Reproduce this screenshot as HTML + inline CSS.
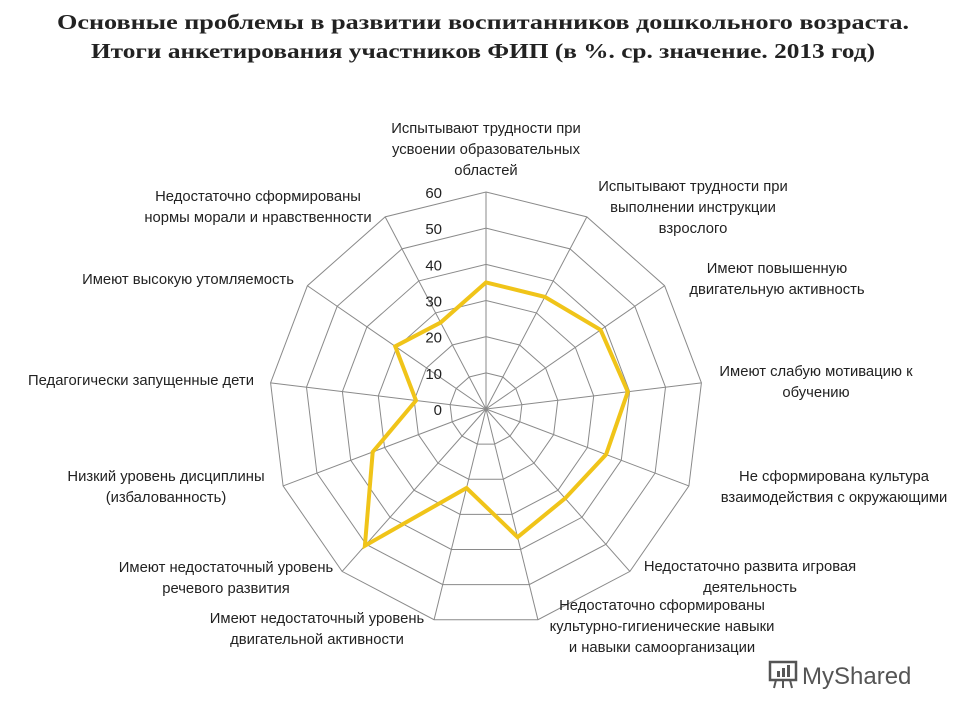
<!DOCTYPE html>
<html><head><meta charset="utf-8"><style>
body{margin:0;background:#fff;}
svg{display:block;}
.t{font-family:"Liberation Serif",serif;font-weight:bold;font-size:21px;fill:#222;}
.l{font-family:"Liberation Sans",sans-serif;font-size:14.8px;fill:#222;}
.k{font-family:"Liberation Sans",sans-serif;font-size:15px;fill:#222;}
</style></head><body>
<svg id="c" width="960" height="720" viewBox="0 0 960 720">
<text class="t" x="483" y="29" text-anchor="middle" textLength="852" lengthAdjust="spacingAndGlyphs">Основные проблемы в развитии воспитанников дошкольного возраста.</text>
<text class="t" x="483" y="58" text-anchor="middle" textLength="784" lengthAdjust="spacingAndGlyphs">Итоги анкетирования участников ФИП (в %. ср. значение. 2013 год)</text>
<g id="grid"></g><g id="series"></g><g id="ticks"></g><g id="labels"></g>
<g transform="translate(770,660)">
<rect x="0" y="2" width="26" height="18" fill="none" stroke="#555" stroke-width="2.5"/>
<rect x="7" y="11" width="3" height="6" fill="#555"/><rect x="12" y="8" width="3" height="9" fill="#555"/><rect x="17" y="5" width="3" height="12" fill="#555"/>
<line x1="6" y1="20" x2="4" y2="28" stroke="#555" stroke-width="2"/><line x1="13" y1="20" x2="13" y2="28" stroke="#555" stroke-width="2"/><line x1="20" y1="20" x2="22" y2="28" stroke="#555" stroke-width="2"/>
<text x="32" y="24" font-family="Liberation Sans,sans-serif" font-size="24" fill="#555">MyShared</text>
</g>
</svg>
<script>
const categories=["Испытывают трудности при|усвоении образовательных|областей","Испытывают трудности при|выполнении инструкции|взрослого","Имеют повышенную|двигательную активность","Имеют слабую мотивацию к|обучению","Не сформирована культура|взаимодействия с окружающими","Недостаточно развита игровая|деятельность","Недостаточно сформированы|культурно-гигиенические  навыки|и навыки самоорганизации","Имеют недостаточный уровень|двигательной активности","Имеют недостаточный уровень|речевого развития","Низкий уровень дисциплины|(избалованность)","Педагогически запущенные дети","Имеют высокую утомляемость","Недостаточно сформированы|нормы морали и нравственности"];
const values=[35,35,38.5,39.5,35.5,33,36.5,22.5,50.5,33.5,19.5,30.5,27];
const tickValues=[0,10,20,30,40,50,60];
const NS="http://www.w3.org/2000/svg";
const cx=486,cy=409,R=217,max=60,n=categories.length;
function ang(i){return i*2*Math.PI/n;}
function pt(i,v){const r=v/max*R,a=ang(i);return [cx+r*Math.sin(a),cy-r*Math.cos(a)];}
function mk(tag,attrs,parent){const e=document.createElementNS(NS,tag);for(const k in attrs)e.setAttribute(k,attrs[k]);parent.appendChild(e);return e;}
const grid=document.getElementById('grid');
tickValues.slice(1).forEach(t=>{
 const p=[];for(let i=0;i<n;i++)p.push(pt(i,t).join(','));
 const e=mk('polygon',{points:p.join(' '),fill:'none',stroke:'#8a8a8a','stroke-width':'1'},grid);
 
 
});
for(let i=0;i<n;i++){const [x,y]=pt(i,max);
 const e=mk('line',{x1:cx,y1:cy,x2:x,y2:y,stroke:'#8a8a8a','stroke-width':'1'},grid);
 
 
}
const ser=document.getElementById('series');
const sp=values.map((v,i)=>pt(i,v).join(',')).join(' ');
const poly=mk('polygon',{points:sp,fill:'none',stroke:'#f0c419','stroke-width':'4','stroke-linejoin':'miter'},ser);


const tk=document.getElementById('ticks');
tickValues.forEach(t=>{
 const e=mk('text',{x:cx-44,y:cy-t/max*R+6,'text-anchor':'end',class:'k'},tk);
 e.textContent=t;
 
 
});
const lpos=[[486,133,'middle'],[693,191,'middle'],[777,273,'middle'],[816,376,'middle'],[834,481,'middle'],[750,571,'middle'],[662,610,'middle'],[317,623,'middle'],[226,572,'middle'],[166,481,'middle'],[141,385,'middle'],[188,284,'middle'],[258,201,'middle']];
const lg=document.getElementById('labels');
categories.forEach((c,i)=>{
 const [x,y,a]=lpos[i];
 const e=mk('text',{x:x,y:y,'text-anchor':a,class:'l'},lg);
 
 
 c.split('|').forEach((s,j)=>{const ts=mk('tspan',{x:x,dy:j?21:0},e);ts.textContent=s;});
});
</script>
</body></html>
